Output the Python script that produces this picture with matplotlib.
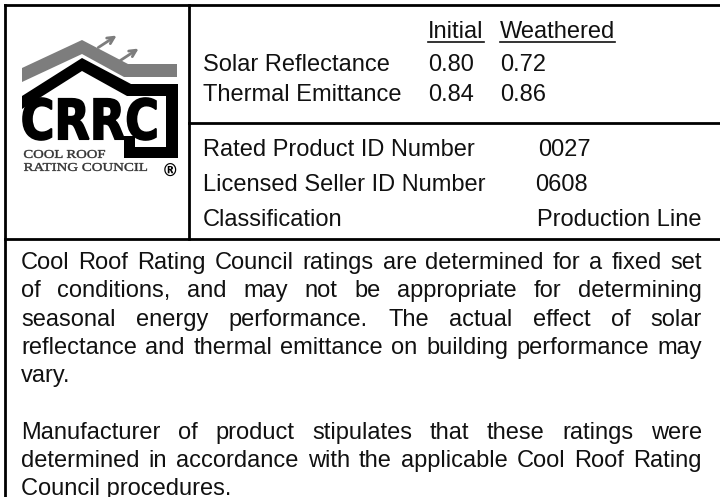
import matplotlib
matplotlib.use("Agg")
import matplotlib.pyplot as plt
from matplotlib.textpath import TextPath
from matplotlib.font_manager import FontProperties
from matplotlib.patches import Polygon, PathPatch
from matplotlib.transforms import Affine2D

# label content
header_cols = ["Initial", "Weathered"]
rating_rows = ["Solar Reflectance", "Thermal Emittance"]
initial_vals = ["0.80", "0.84"]
weathered_vals = ["0.72", "0.86"]
id_rows = ["Rated Product ID Number", "Licensed Seller ID Number", "Classification"]
id_vals = ["0027", "0608", "Production Line"]
paragraphs = [
    ["Cool Roof Rating Council ratings are determined for a fixed set",
     "of conditions, and may not be appropriate for determining",
     "seasonal energy performance. The actual effect of solar",
     "reflectance and thermal emittance on building performance may",
     "vary."],
    ["Manufacturer of product stipulates that these ratings were",
     "determined in accordance with the applicable Cool Roof Rating",
     "Council procedures."],
]

W, H = 720, 497
fig = plt.figure(figsize=(7.2, 4.97), dpi=100)
ax = fig.add_axes([0, 0, 1, 1])
ax.set_xlim(0, W)
ax.set_ylim(H, 0)
ax.axis("off")

FONT = "Liberation Sans"
FS = 17
INK = "#111111"
GRAY = "#7d7d7d"

# frame lines
lw = 2.0
ax.plot([5, W], [5, 5], color="black", lw=lw)
ax.plot([5, 5], [5, H], color="black", lw=lw)
ax.plot([189, 189], [5, 239], color="black", lw=lw)
ax.plot([189, W], [123, 123], color="black", lw=lw)
ax.plot([5, W], [239, 239], color="black", lw=lw)

fig.canvas.draw()
renderer = fig.canvas.get_renderer()


def width_of(t):
    return t.get_window_extent(renderer).width


# header with underline
for label, x in zip(header_cols, [428, 500]):
    t = ax.text(x, 38, label, fontsize=FS, family=FONT, color=INK, va="baseline")
    ax.plot([x, x + width_of(t)], [41.5, 41.5], color=INK, lw=1.2)

for i, label in enumerate(rating_rows):
    y = 71 + i * 30
    ax.text(203, y, label, fontsize=FS, family=FONT, color=INK, va="baseline")
    ax.text(428, y, initial_vals[i], fontsize=FS, family=FONT, color=INK, va="baseline")
    ax.text(500, y, weathered_vals[i], fontsize=FS, family=FONT, color=INK, va="baseline")

id_x = [538, 535, 537]
for i, label in enumerate(id_rows):
    y = 156 + i * 35
    ax.text(203, y, label, fontsize=FS, family=FONT, color=INK, va="baseline")
    ax.text(id_x[i], y, id_vals[i], fontsize=FS, family=FONT, color=INK, va="baseline")

# justified body text
left, right = 21, 702
line_h = 28.3
y = 269
for para in paragraphs:
    for j, line in enumerate(para):
        words = line.split()
        last = j == len(para) - 1
        if last:
            ax.text(left, y, line, fontsize=FS, family=FONT, color=INK, va="baseline")
        else:
            ts = [ax.text(0, y, w, fontsize=FS, family=FONT, color=INK, va="baseline") for w in words]
            ws = [width_of(t) for t in ts]
            gap = (right - left - sum(ws)) / (len(words) - 1)
            x = left
            for t, w in zip(ts, ws):
                t.set_x(x)
                x += w + gap
        y += line_h
    y += line_h

# logo
ax.add_patch(Polygon([(22, 68), (82, 40), (128, 64), (177, 64), (177, 77),
                      (124, 77), (82, 54), (22, 82)], closed=True,
                     facecolor=GRAY, edgecolor="none"))
ax.add_patch(Polygon([(22, 96), (82, 58), (131, 84), (178, 84), (178, 158),
                      (124, 158), (124, 136), (135, 136), (135, 147),
                      (166, 147), (166, 96), (127, 96), (82, 71), (22, 109)],
                     closed=True, facecolor="black", edgecolor="none"))
for (x0, y0, x1, y1) in [(96, 49, 119, 34), (118, 62, 141, 47)]:
    ax.annotate("", xy=(x1, y1), xytext=(x0, y0),
                arrowprops=dict(arrowstyle="->", color=GRAY, lw=2.0,
                                mutation_scale=12))


def fit_text(s, x0, x1, ytop, ybot, prop, color, stroke=0.8):
    tp = TextPath((0, 0), s, prop=prop)
    b = tp.get_extents()
    tr = Affine2D().translate(-b.x0, -b.y0).scale(
        (x1 - x0) / b.width, -(ybot - ytop) / b.height).translate(x0, ybot)
    ax.add_patch(PathPatch(tr.transform_path(tp), facecolor=color,
                           edgecolor=color, lw=stroke))


fit_text("CRRC", 23, 156, 98, 140,
         FontProperties(family="DejaVu Sans", weight="bold"), "black", 1.2)
fit_text("COOL ROOF", 24, 105, 150, 158,
         FontProperties(family="Liberation Serif"), "#333333", 0.3)
fit_text("RATING COUNCIL", 24, 147, 163, 171,
         FontProperties(family="Liberation Serif"), "#333333", 0.3)
ax.text(170, 172, "®", fontsize=12, family="DejaVu Sans", weight="bold",
        color="black", ha="center", va="center")

plt.savefig("out.png", dpi=100)
